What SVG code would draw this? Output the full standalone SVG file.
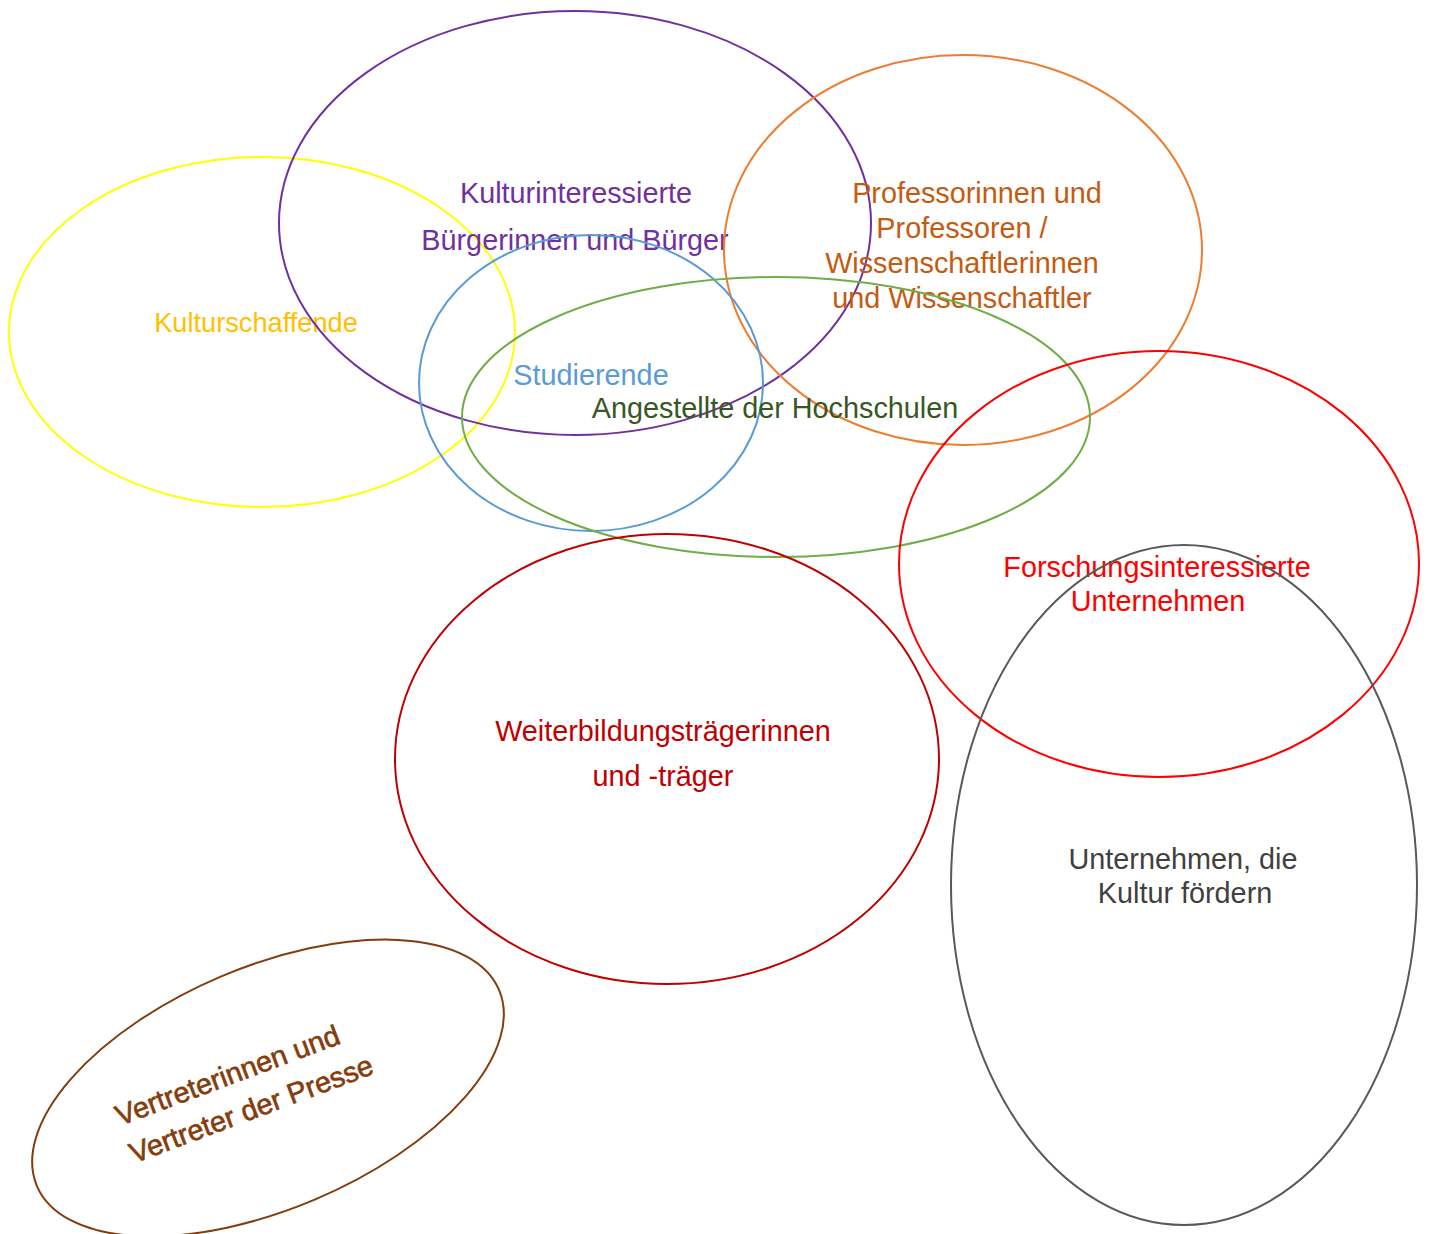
<svg xmlns="http://www.w3.org/2000/svg" width="1429" height="1234" viewBox="0 0 1429 1234">
<style>
  .e { fill: none; stroke-width: 2; }
  text { font-family: "Liberation Sans", Arial, sans-serif; font-size: 28.8px; text-anchor: middle; }
</style>
<rect width="1429" height="1234" fill="#ffffff"/>
<g id="kulturschaffende">
  <ellipse class="e" cx="262" cy="332" rx="253" ry="175" stroke="#FFFF00"/>
  <text x="256" y="332" fill="#FFC000" style="font-size:27.2px">Kulturschaffende</text>
</g>
<g id="kulturinteressierte">
  <ellipse class="e" cx="575" cy="223" rx="296" ry="212" stroke="#7030A0"/>
  <text x="576" y="203" fill="#7030A0">Kulturinteressierte</text>
  <text x="575" y="250" fill="#7030A0">Bürgerinnen und Bürger</text>
</g>
<g id="professoren">
  <ellipse class="e" cx="963" cy="250" rx="239" ry="195" stroke="#ED7D31"/>
  <text fill="#C55A11"><tspan x="977" y="203">Professorinnen und</tspan><tspan x="962" y="238">Professoren /</tspan><tspan x="962" y="273">Wissenschaftlerinnen</tspan><tspan x="962" y="308">und Wissenschaftler</tspan></text>
</g>
<g id="studierende">
  <ellipse class="e" cx="591" cy="383" rx="172" ry="148" stroke="#5B9BD5"/>
  <text x="591" y="385" fill="#5B9BD5">Studierende</text>
</g>
<g id="angestellte">
  <ellipse class="e" cx="776" cy="417" rx="314" ry="140" stroke="#70AD47"/>
  <text x="775" y="418" fill="#385723">Angestellte der Hochschulen</text>
</g>
<g id="forschung">
  <ellipse class="e" cx="1159" cy="564" rx="260" ry="213" stroke="#FF0000"/>
  <text x="1157" y="577" fill="#FF0000">Forschungsinteressierte</text>
  <text x="1158" y="611" fill="#FF0000">Unternehmen</text>
</g>
<g id="kulturfoerderer">
  <ellipse class="e" cx="1184" cy="885" rx="233" ry="340" stroke="#595959"/>
  <text x="1183" y="869" fill="#404040">Unternehmen, die</text>
  <text x="1185" y="903" fill="#404040">Kultur fördern</text>
</g>
<g id="weiterbildung">
  <ellipse class="e" cx="667" cy="759" rx="272" ry="225" stroke="#C00000"/>
  <text x="663" y="741" fill="#C00000">Weiterbildungsträgerinnen</text>
  <text x="663" y="786" fill="#C00000">und -träger</text>
</g>
<g id="presse">
  <ellipse class="e" cx="268" cy="1088" rx="251" ry="121" stroke="#843C0C" transform="rotate(-23 268 1088)"/>
  <g transform="translate(10 3) rotate(-20.5 110 1123)" fill="#843C0C" stroke="#843C0C" stroke-width="0.6">
    <text x="110" y="1123" style="text-anchor:start">Vertreterinnen und</text>
    <text x="110" y="1163" style="text-anchor:start">Vertreter der Presse</text>
  </g>
</g>
<g id="connectors"></g>
</svg>
